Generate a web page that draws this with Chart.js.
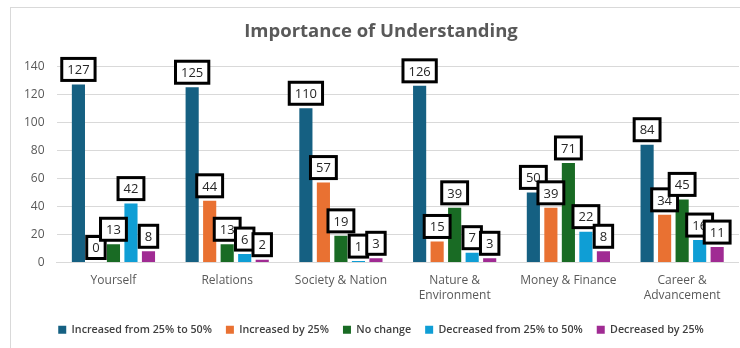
<!DOCTYPE html>
<html>
<head>
<meta charset="utf-8">
<script src="https://cdn.jsdelivr.net/npm/chart.js@4"></script>
<style>
  body { margin: 0; background: #fff; }
  #frame { position: absolute; left: 10px; top: 7px; width: 740px; height: 350px; border: 1px solid #d9d9d9; box-sizing: border-box; }
  #wrap { position: absolute; left: 0; top: 0; width: 728px; height: 341px; }
</style>
</head>
<body>
<div id="frame"><div id="wrap"><canvas id="chart"></canvas></div></div>
<script>
// datos del grafico
const categories = ['Yourself', 'Relations', 'Society & Nation', ['Nature &', 'Environment'], 'Money & Finance', ['Career &', 'Advancement']];
const seriesNames = ['Increased from 25% to 50%', 'Increased by 25%', 'No change', 'Decreased from 25% to 50%', 'Decreased by 25%'];
const increased25to50 = [127, 125, 110, 126, 50, 84];
const increasedBy25 = [0, 44, 57, 15, 39, 34];
const noChange = [13, 13, 19, 39, 71, 45];
const decreased25to50 = [42, 6, 1, 7, 22, 16];
const decreasedBy25 = [8, 2, 3, 3, 8, 11];
const yTicks = [0, 20, 40, 60, 80, 100, 120, 140];

const colors = ['#156082', '#E97132', '#196B24', '#0F9ED5', '#A02B93'];
const seriesValues = [increased25to50, increasedBy25, noChange, decreased25to50, decreasedBy25];

const FONT = 'Open Sans';

// etiquetas con recuadro negro encima de cada barra
const boxLabels = {
  id: 'boxLabels',
  afterDatasetsDraw(chart) {
    const ctx = chart.ctx;
    ctx.save();
    ctx.font = '13px "' + FONT + '"';
    ctx.textAlign = 'center';
    ctx.textBaseline = 'middle';
    chart.data.datasets.forEach((ds, i) => {
      const meta = chart.getDatasetMeta(i);
      meta.data.forEach((bar, j) => {
        const txt = String(ds.data[j]);
        const w = ctx.measureText(txt).width + 11;
        const h = 22;
        const x = bar.x - w / 2;
        const y = bar.y - 4 - h;
        ctx.fillStyle = '#fff';
        ctx.fillRect(x, y, w, h);
        ctx.lineWidth = 3;
        ctx.strokeStyle = '#000';
        ctx.strokeRect(x, y, w, h);
        ctx.fillStyle = '#262626';
        ctx.fillText(txt, bar.x, y + h / 2 + 1);
      });
    });
    ctx.restore();
  }
};

new Chart(document.getElementById('chart'), {
  type: 'bar',
  data: {
    labels: categories,
    datasets: seriesNames.map((name, i) => ({
      label: name,
      data: seriesValues[i],
      backgroundColor: colors[i],
      categoryPercentage: 0.77,
      barPercentage: 0.75
    }))
  },
  options: {
    responsive: true,
    maintainAspectRatio: false,
    animation: false,
    layout: { padding: { left: 12, right: 0, top: 8, bottom: 4 } },
    plugins: {
      title: {
        display: true,
        text: 'Importance of Understanding',
        color: '#595959',
        font: { family: FONT, size: 18.5, weight: 'bold' },
        padding: { top: 5, bottom: 23 }
      },
      legend: {
        position: 'bottom',
        labels: {
          boxWidth: 8, boxHeight: 8,
          color: '#404040',
          font: { family: FONT, size: 10.7, weight: '600' },
          padding: 14
        }
      },
      tooltip: { enabled: false }
    },
    scales: {
      x: {
        grid: { display: false },
        border: { color: '#d9d9d9' },
        ticks: { color: '#595959', font: { family: FONT, size: 12 }, maxRotation: 0, autoSkip: false },
        afterFit(axis) { axis.height += 5; }
      },
      y: {
        min: 0, max: 140,
        afterBuildTicks(axis) { axis.ticks = yTicks.map(v => ({ value: v })); },
        grid: { color: '#d9d9d9', drawTicks: false },
        border: { display: false },
        ticks: { color: '#595959', font: { family: FONT, size: 12 }, padding: 12 },
        afterFit(axis) { axis.width -= 11; }
      }
    }
  },
  plugins: [boxLabels]
});
</script>
</body>
</html>
